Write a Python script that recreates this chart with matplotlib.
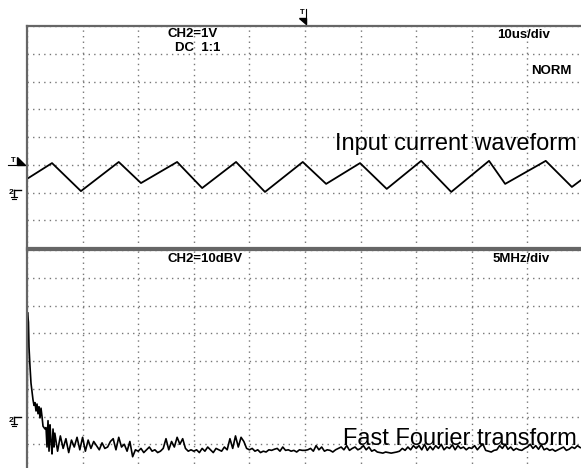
import matplotlib
matplotlib.use("Agg")
import matplotlib.pyplot as plt
from matplotlib.patches import Polygon
from matplotlib.lines import Line2D
import numpy as np

plt.rcParams['font.family'] = ['Liberation Sans', 'DejaVu Sans']

# Верхній канал: струм (мкс, поділки)
wave_t = [0.0, 4.5, 9.7, 16.5, 20.5, 27.0, 31.5, 37.6, 42.8, 49.6, 53.8,
          59.9, 64.7, 70.9, 76.3, 83.1, 86.0, 93.3, 98.0, 100.0]
wave_v = [2.49, 3.06, 2.05, 3.10, 2.34, 3.10, 2.16, 3.10, 2.02, 3.10, 2.31,
          3.06, 2.13, 3.14, 2.02, 3.14, 2.31, 3.14, 2.20, 2.50]

# Нижній канал: спектр (МГц, поділки по 10 дБ)
fft_head_f = [0.05, 0.13, 0.18, 0.27, 0.36, 0.45, 0.54, 0.63, 0.72, 0.81,
              0.90, 0.99, 1.08, 1.17, 1.26, 1.35, 1.44, 1.53, 1.62, 1.71,
              1.80, 1.89, 1.98, 2.07, 2.16, 2.25, 2.34, 2.43]
fft_head_v = [5.73, 5.40, 4.50, 3.80, 3.20, 2.90, 2.60, 2.40, 2.50, 2.20,
              2.45, 2.10, 2.35, 1.95, 2.30, 2.00, 1.65, 1.60, 1.55, 1.60,
              0.90, 1.85, 0.75, 1.70, 1.10, 0.65, 1.55, 0.90]
fft_floor_start = 2.5
fft_floor_step = 0.25
fft_floor_v = [
    1.40, 0.75, 1.30, 0.85, 1.20, 0.70, 1.15, 0.90, 1.25, 0.80,
    1.25, 0.75, 1.15, 0.85, 1.10, 0.95, 0.80, 1.05, 0.85, 0.90,
    1.10, 1.20, 0.80, 1.25, 0.90, 1.00, 0.75, 1.10, 0.55, 0.80,
    0.75, 0.85, 0.70, 0.80, 0.90, 0.75, 0.80, 0.70, 0.75, 0.85,
    1.20, 0.80, 1.10, 0.90, 1.25, 1.00, 1.20, 0.85, 0.75, 0.80,
    0.75, 0.80, 0.70, 0.85, 0.75, 0.90, 0.80, 0.70, 0.85, 0.80,
    0.75, 0.90, 0.80, 1.20, 0.85, 1.30, 0.90, 1.25, 1.10, 0.85,
    0.80, 0.85, 0.75, 0.80, 0.70, 0.75, 0.72, 0.80, 0.78, 0.82,
    0.85, 0.75, 0.90, 0.78, 0.80, 0.75, 0.78, 0.72, 0.80, 0.78,
    0.78, 0.80, 0.85, 0.75, 0.95, 0.80, 0.90, 0.75, 0.80, 0.78,
    0.72, 0.80, 0.85, 0.90, 0.80, 0.95, 0.78, 0.85, 0.90, 0.80,
    0.85, 0.95, 0.80, 0.90, 0.75, 0.80, 0.72, 0.70, 0.68, 0.72,
    0.70, 0.68, 0.70, 0.72, 0.75, 0.85, 0.78, 0.90, 0.80, 0.95,
    0.85, 0.95, 0.80, 1.00, 0.78, 0.92, 0.80, 0.95, 0.85, 1.00,
    0.80, 0.90, 0.85, 0.98, 0.80, 0.95, 0.85, 0.90, 0.80, 0.88,
    0.85, 0.95, 0.80, 0.92, 1.00, 0.78, 0.75, 0.72, 0.78, 0.80,
    0.95, 0.85, 1.00, 0.82, 0.90, 0.78, 0.85, 0.80, 0.78, 0.85,
    0.90, 1.00, 0.85, 0.95, 0.82, 0.98, 0.80, 0.85, 0.78, 0.82,
    0.75, 0.80, 0.85, 0.90, 0.78, 0.82, 0.90, 0.85, 0.95, 0.88,
]

W, H = 581, 468
X0 = 27
DIV_PX = 55.6  # ширина поділки в пікселях
VISIBLE = (W - X0) / (10 * DIV_PX)  # частка екрана, що потрапила в кадр
GRID = dict(color='#777777', linestyle=(0, (1, 3)), linewidth=1.0)
FRAME = '#666666'


def fx(x):
    return x / W


def fy(y):
    return 1 - y / H


def setup(ax, xmax):
    ax.set_xlim(0, xmax * VISIBLE)
    ax.set_ylim(0, 8)
    ax.set_xticks(np.linspace(0, xmax, 11)[:-1])
    ax.set_yticks(range(9))
    ax.tick_params(length=0, labelbottom=False, labelleft=False)
    ax.grid(True, **GRID)
    for s in ax.spines.values():
        s.set_color(FRAME)
        s.set_linewidth(1.6)
    ax.spines['right'].set_visible(False)


def ground(y):
    # позначка "2" з символом землі
    fig.text(fx(8.5), fy(y), '2', fontsize=6, fontweight='bold', va='center')
    fig.add_artist(Line2D([fx(14), fx(21)], [fy(y - 3), fy(y - 3)], color='k', lw=1))
    fig.add_artist(Line2D([fx(14), fx(14)], [fy(y - 3), fy(y + 4)], color='k', lw=1))
    fig.add_artist(Line2D([fx(11), fx(17)], [fy(y + 4), fy(y + 4)], color='k', lw=0.8))
    fig.add_artist(Line2D([fx(12), fx(16)], [fy(y + 6), fy(y + 6)], color='k', lw=0.8))


fig = plt.figure(figsize=(W / 100, H / 100), dpi=100)
ax1 = fig.add_axes([fx(X0), fy(248), (W - X0) / W, 222 / H])
ax2 = fig.add_axes([fx(X0), fy(472), (W - X0) / W, 222 / H])

setup(ax1, 100)
setup(ax2, 50)

ax1.plot(wave_t, wave_v, color='black', linewidth=1.3)

fft_f = fft_head_f + list(fft_floor_start + fft_floor_step * np.arange(len(fft_floor_v)))
fft_v = fft_head_v + fft_floor_v
ax2.plot(fft_f, fft_v, color='black', linewidth=1.2)
ax2.plot([0.0, 0.05], [0.2, 5.73], color='black', linewidth=1.2)

# написи екрана осцилографа
lab = dict(fontsize=9.5, fontweight='bold', va='center')
big = dict(fontsize=17, ha='right', va='baseline')
fig.text(fx(167), fy(34), 'CH2=1V', **lab)
fig.text(fx(175), fy(48), 'DC  1:1', **lab)
fig.text(fx(497), fy(35), '10us/div', **lab)
fig.text(fx(531), fy(71), 'NORM', **lab)
fig.text(fx(577), fy(150), 'Input current waveform', **big)

fig.text(fx(167), fy(259), 'CH2=10dBV', **lab)
fig.text(fx(493), fy(259), '5MHz/div', **lab)
fig.text(fx(577), fy(445), 'Fast Fourier transform', **big)

# маркер запуску зверху
fig.text(fx(302.5), fy(13), 'T', fontsize=5.5, fontweight='bold', ha='center', va='center')
fig.add_artist(Polygon([[fx(299), fy(18)], [fx(306), fy(18)], [fx(306), fy(24)]],
                       closed=True, color='black', transform=fig.transFigure))
fig.add_artist(Line2D([fx(306), fx(306)], [fy(9), fy(24)], color='k', lw=0.8))

# маркер рівня запуску зліва
fig.text(fx(13), fy(160.5), 'T', fontsize=5.5, fontweight='bold', ha='center', va='center')
fig.add_artist(Line2D([fx(8), fx(25)], [fy(165), fy(165)], color='k', lw=0.8))
fig.add_artist(Polygon([[fx(17), fy(157)], [fx(17), fy(165)], [fx(25), fy(165)]],
                       closed=True, color='black', transform=fig.transFigure))

ground(193)
ground(420)

fig.savefig('out.png', dpi=100, facecolor='white')
